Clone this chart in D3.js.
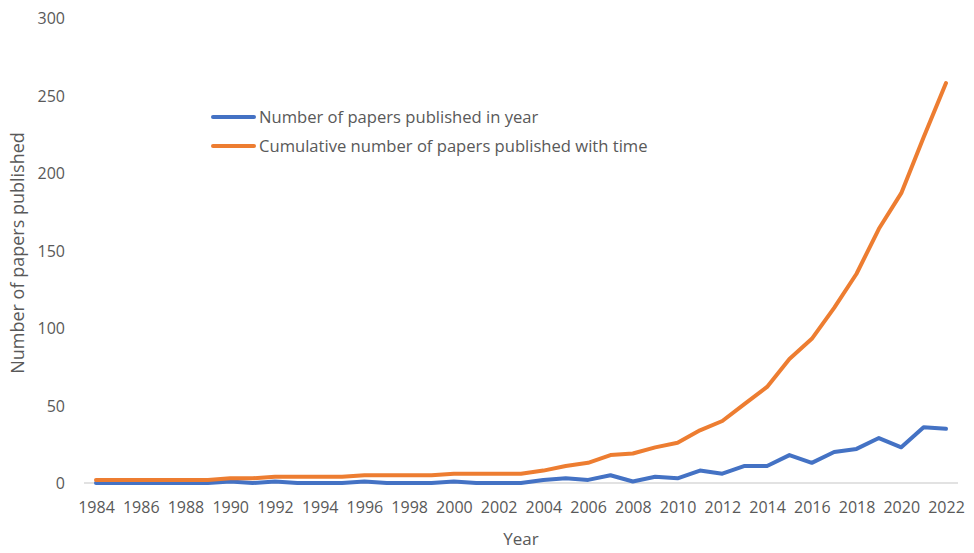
<!DOCTYPE html>
<html><head><meta charset="utf-8">
<script src="https://cdn.jsdelivr.net/npm/d3@7"></script>
<style>body{margin:0;background:#fff}svg{display:block}text{font-family:"Open Sans",sans-serif;fill:#595959}</style>
</head><body><div id="chart"></div>
<script>
const years = d3.range(1984, 2023);
const annual = [0,0,0,0,0,0,1,0,1,0,0,0,1,0,0,0,1,0,0,0,2,3,2,5,1,4,3,8,6,11,11,18,13,20,22,29,23,36,35];
const cumulative = [2,2,2,2,2,2,3,3,4,4,4,4,5,5,5,5,6,6,6,6,8,11,13,18,19,23,26,34,40,51,62,80,93,113,135,164,187,223,258];
const yTicks = [0,50,100,150,200,250,300];
const seriesNames = ["Number of papers published in year","Cumulative number of papers published with time"];
const colors = ["#4472C4","#ED7D31"];

const W=974,H=553;
const FF="'Open Sans',sans-serif";
const svg=d3.select("#chart").append("svg").attr("width",W).attr("height",H);
const x=d3.scalePoint().domain(years).range([96,946]);
const y=d3.scaleLinear().domain([0,300]).range([483,18]);

svg.append("line").attr("x1",84).attr("x2",958).attr("y1",y(0)).attr("y2",y(0)).attr("stroke","#D9D9D9").attr("stroke-width",1.3);

const yAx=svg.append("g").attr("transform","translate(65,0)").call(d3.axisLeft(y).tickValues(yTicks).tickSize(0).tickPadding(0));
yAx.select(".domain").remove();
yAx.selectAll("text").attr("font-size",16).attr("dy","0.35em").style("fill","#595959").style("font-family",FF);

const xAx=svg.append("g").attr("transform","translate(0,507)").call(d3.axisBottom(x).tickValues(years.filter(d=>d%2===0)).tickSize(0).tickPadding(0));
xAx.select(".domain").remove();
xAx.selectAll("text").attr("font-size",16).attr("dy","0.35em").style("fill","#595959").style("font-family",FF);

const line=d3.line().x((d,i)=>x(years[i])).y(d=>y(d));
[annual,cumulative].forEach((s,k)=>{
  svg.append("path").datum(s).attr("d",line).attr("fill","none").attr("stroke",colors[k]).attr("stroke-width",4).attr("stroke-linejoin","round").attr("stroke-linecap","round");
});

seriesNames.forEach((n,k)=>{
  const ly=117+k*29;
  svg.append("line").attr("x1",213).attr("x2",254).attr("y1",ly).attr("y2",ly).attr("stroke",colors[k]).attr("stroke-width",4).attr("stroke-linecap","round");
  svg.append("text").attr("x",259).attr("y",ly).attr("dy","0.35em").attr("font-size",16.6).text(n);
});

svg.append("text").attr("x",521).attr("y",539).attr("dy","0.35em").attr("text-anchor","middle").attr("font-size",17).text("Year");
svg.append("text").attr("transform","translate(18,253) rotate(-90)").attr("dy","0.35em").attr("text-anchor","middle").attr("font-size",18).text("Number of papers published");
</script></body></html>
